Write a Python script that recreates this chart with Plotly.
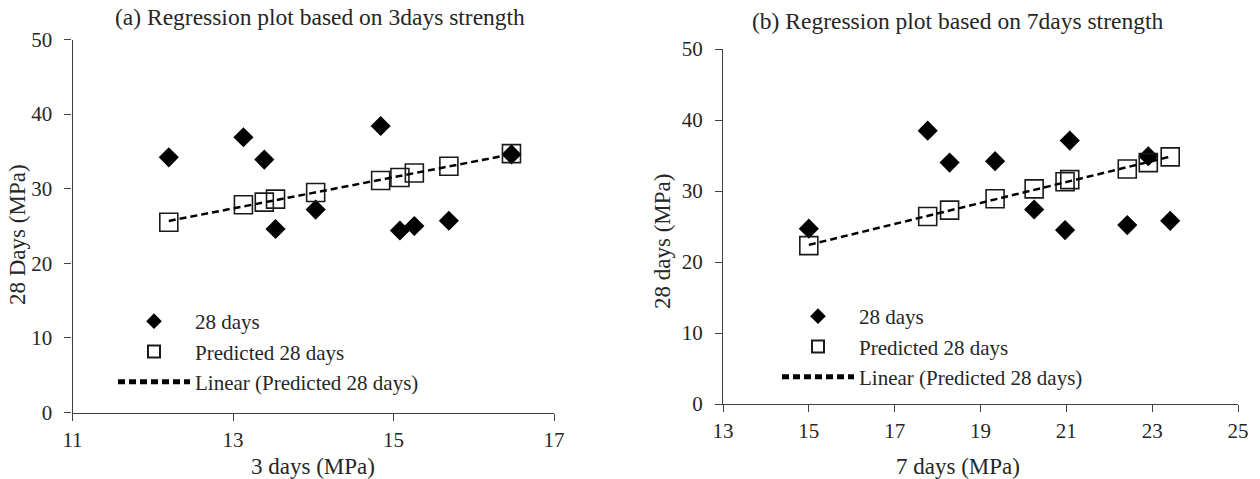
import numpy as np
import plotly.graph_objects as go

# ---- data ----
x3_days = [12.20, 13.13, 13.39, 13.53, 14.03, 14.84, 15.08, 15.26, 15.69, 16.47]
y28_a = [34.2, 36.9, 33.9, 24.6, 27.2, 38.4, 24.4, 25.0, 25.7, 34.6]
pred_a = [25.5, 27.85, 28.2, 28.6, 29.5, 31.1, 31.5, 32.1, 33.0, 34.7]

x7_days = [15.00, 17.77, 18.28, 19.34, 20.25, 20.97, 21.08, 22.42, 22.91, 23.42]
y28_b = [24.7, 38.5, 34.0, 34.2, 27.4, 24.5, 37.1, 25.2, 34.9, 25.8]
pred_b = [22.3, 26.4, 27.3, 28.9, 30.3, 31.3, 31.6, 33.1, 34.0, 34.8]

title_a = "(a) Regression plot based on 3days strength"
title_b = "(b) Regression plot based on 7days strength"
xtitle_a = "3 days (MPa)"
xtitle_b = "7 days (MPa)"
ytitle_a = "28 Days (MPa)"
ytitle_b = "28 days (MPa)"
names = ["28 days", "Predicted 28 days", "Linear (Predicted 28 days)"]

FONT = "Liberation Serif"
TXT = "#262626"
AX = "#404040"

fig = go.Figure()


def add_panel(x, y, pred, xa, ya, leg):
    fig.add_trace(go.Scatter(
        x=x, y=y, mode="markers", name=names[0], xaxis=xa, yaxis=ya, legend=leg,
        marker=dict(symbol="diamond", size=15.5, color="black", line=dict(width=0)),
    ))
    fig.add_trace(go.Scatter(
        x=x, y=pred, mode="markers", name=names[1], xaxis=xa, yaxis=ya, legend=leg,
        marker=dict(symbol="square-open", size=18, color="#1a1a1a", line=dict(width=1.6)),
    ))
    k, b = np.polyfit(x, pred, 1)
    xl = [min(x), max(x)]
    fig.add_trace(go.Scatter(
        x=xl, y=[k * v + b for v in xl], mode="lines", name=names[2], xaxis=xa, yaxis=ya, legend=leg,
        line=dict(color="black", width=2.5, dash="7px,4px"),
    ))


add_panel(x3_days, y28_a, pred_a, "x", "y", "legend")
add_panel(x7_days, y28_b, pred_b, "x2", "y2", "legend2")

W, H = 1260, 479
axis_common = dict(
    showgrid=False, zeroline=False, showline=True, linecolor=AX, linewidth=1.3,
    ticks="outside", ticklen=7, tickcolor=AX, tickwidth=1.3, automargin=False,
    tickfont=dict(family=FONT, size=21, color=TXT),
)

fig.update_layout(
    width=W, height=H, margin=dict(l=0, r=0, t=0, b=0, autoexpand=False),
    paper_bgcolor="white", plot_bgcolor="white",
    font=dict(family=FONT, color=TXT),
    xaxis=dict(domain=[72.5 / W, 554 / W], range=[11, 17], tickvals=[11, 13, 15, 17],
               anchor="y", ticklabelstandoff=1, **axis_common),
    yaxis=dict(domain=[1 - 412.5 / H, 1 - 39.5 / H], range=[0, 50], tickvals=[0, 10, 20, 30, 40, 50],
               anchor="x", ticklabelstandoff=8, **axis_common),
    xaxis2=dict(domain=[723 / W, 1238 / W], range=[13, 25], tickvals=[13, 15, 17, 19, 21, 23, 25],
                anchor="y2", ticklabelstandoff=1, **axis_common),
    yaxis2=dict(domain=[1 - 404 / H, 1 - 49 / H], range=[0, 50], tickvals=[0, 10, 20, 30, 40, 50],
                anchor="x2", ticklabelstandoff=8, **axis_common),
    legend=dict(x=113 / W, y=1 - 301 / H, xanchor="left", yanchor="top",
                bgcolor="rgba(0,0,0,0)", font=dict(family=FONT, size=21, color=TXT),
                itemsizing="constant", itemwidth=72),
    legend2=dict(x=777 / W, y=1 - 296 / H, xanchor="left", yanchor="top",
                 bgcolor="rgba(0,0,0,0)", font=dict(family=FONT, size=21, color=TXT),
                 itemsizing="constant", itemwidth=72),
    showlegend=True,
)

ann = [
    (title_a, 320, 17, 0, 23.5),
    (title_b, 957, 21, 0, 23.5),
    (xtitle_a, 313, 466, 0, 23),
    (xtitle_b, 958, 466, 0, 23),
    (ytitle_a, 17, 235, -90, 23),
    (ytitle_b, 663, 242, -90, 23),
]
for text, px, py, ang, fs in ann:
    fig.add_annotation(text=text, x=px / W, y=1 - py / H, xref="paper", yref="paper",
                       showarrow=False, xanchor="center", yanchor="middle", textangle=ang,
                       font=dict(family=FONT, size=fs, color=TXT))

fig.write_html("out.html")
